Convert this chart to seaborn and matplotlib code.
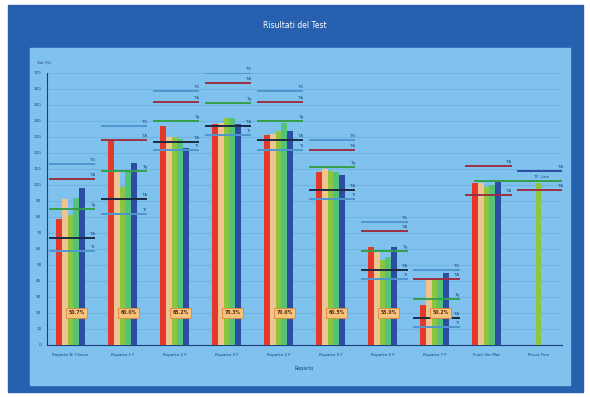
import matplotlib
matplotlib.use("Agg")
import matplotlib.pyplot as plt
import numpy as np
import pandas as pd
import seaborn as sns
from matplotlib.patches import Rectangle

nan = np.nan

categories = ["Reparto N. Classe", "Reparto 1 F", "Reparto 2 F", "Reparto 3 F",
              "Reparto 4 F", "Reparto 5 F", "Reparto 6 F", "Reparto 7 F",
              "Fuori Ver Mat", "Prova Fine"]
series = ["Serie 1", "Serie 2", "Serie 3", "Serie 4", "Serie 5"]

serie_1 = [79, 128, 137, 138, 131, 108, 61, 25, 101, nan]
serie_2 = [91, 108, 130, 139, 132, 110, 59, 42, 101, nan]
serie_3 = [81, 99, 130, 142, 134, 109, 53, 42, 99, 101]
serie_4 = [92, 108, 129, 142, 139, 108, 55, 42, 100, nan]
serie_5 = [98, 114, 123, 138, 134, 106, 61, 45, 102, nan]

upper_limit = [113, 137, 159, 170, 159, 128, 77, 47, nan, nan]
upper_warn = [104, 128, 152, 164, 152, 122, 71, 41, 112, 109]
target = [85, 109, 140, 151, 140, 111, 59, 29, nan, nan]
lower_warn = [67, 91, 127, 137, 128, 97, 47, 17, 94, 97]
lower_limit = [59, 82, 122, 131, 122, 91, 41, 11, nan, nan]
tf_line = 102.5

pct_labels = ["50.7%", "60.0%", "65.2%", "70.3%", "70.0%", "60.5%", "55.0%", "50.2%"]

frame_blue = "#2860b0"
panel_blue = "#80c2ee"
text_blue = "#1f3f7a"
bar_colors = ["#e2392c", "#f0c490", "#8cc63e", "#55c27a", "#2c4ea2"]

rows = []
for s, vals in zip(series, [serie_1, serie_2, serie_3, serie_4, serie_5]):
    for c, v in zip(categories, vals):
        if not np.isnan(v):
            rows.append({"Reparto": c, "Serie": s, "Valore": v})
df = pd.DataFrame(rows)

sns.set_style("white")
fig = plt.figure(figsize=(5.9, 3.97), dpi=100)
fig.patch.set_facecolor("white")
W, H = 590, 397
fig.patches.append(Rectangle((8 / W, 1 - 392 / H), 575 / W, 387 / H,
                             transform=fig.transFigure, color=frame_blue, zorder=-5))
fig.patches.append(Rectangle((30 / W, 1 - 385 / H), 540 / W, 337 / H,
                             transform=fig.transFigure, color=panel_blue, zorder=-4))
fig.text(295 / W, 1 - 25 / H, "Risultati del Test", color="white", fontsize=5.5,
         ha="center", va="center")

ax = fig.add_axes([47 / W, 1 - 345 / H, 515 / W, 272 / H])
ax.set_zorder(2)
ax.set_facecolor(panel_blue)

sns.barplot(data=df, x="Reparto", y="Valore", hue="Serie", order=categories,
            hue_order=series, palette=bar_colors, width=0.55, saturation=1,
            linewidth=0, legend=False, ax=ax, zorder=3)

ax.set_xlim(-0.45, 9.45)
ax.set_ylim(0, 170)
ax.set_yticks(np.arange(0, 171, 10))
ax.set_yticklabels([f"{v:.0f}" for v in np.arange(0, 171, 10)])
ax.grid(axis="y", color="#6cacdf", linewidth=0.5, zorder=0)
ax.set_axisbelow(True)

for sp in ["top", "right"]:
    ax.spines[sp].set_visible(False)
for sp in ["left", "bottom"]:
    ax.spines[sp].set_color(text_blue)
    ax.spines[sp].set_linewidth(0.8)
ax.tick_params(axis="both", labelsize=3, colors=text_blue, length=2, width=0.5, pad=2)
ax.tick_params(axis="x", length=0, pad=6)
ax.set_xlabel("Reparto", fontsize=3.5, color=text_blue, labelpad=6)
ax.set_ylabel("")
ax.text(-0.02, 1.03, "Val (%)", transform=ax.transAxes, fontsize=3,
        color=text_blue, ha="left", va="bottom")

ref_sets = [
    (upper_limit, "#4f95cf", "T.S"),
    (upper_warn, "#9c2f45", "T.A"),
    (target, "#34a04a", "Tg"),
    (lower_warn, "#1d2a44", "T.A"),
    (lower_limit, "#4f95cf", "T.I"),
]
for levels, col, lab in ref_sets:
    for i, lv in enumerate(levels):
        if np.isnan(lv):
            continue
        lc = col
        if i >= 8 and levels is lower_warn:
            lc = "#9c2f45"
        if i == 9 and levels is upper_warn:
            lc = "#2c4ea2"
        ax.hlines(lv, i - 0.42, i + 0.48, color=lc, linewidth=1.4, zorder=4)
        ax.text(i + 0.47, lv + 1.2, lab, fontsize=3, color=text_blue,
                ha="right", va="bottom", zorder=5)

ax.hlines(tf_line, 7.75, 9.45, color="#34a04a", linewidth=1.4, zorder=4)
ax.text(9.05, tf_line + 1.2, "T.F. Line", fontsize=3, color=text_blue,
        ha="center", va="bottom", zorder=5)

for i, lab in enumerate(pct_labels):
    ax.text(i + 0.12, 20, lab, fontsize=3.3, color="#5a2a10", ha="center",
            va="center", zorder=6, fontweight="bold",
            bbox=dict(boxstyle="square,pad=0.5", facecolor="#f6c27c",
                      edgecolor="#d98a3a", linewidth=0.6))

fig.savefig("out.png", dpi=100)
